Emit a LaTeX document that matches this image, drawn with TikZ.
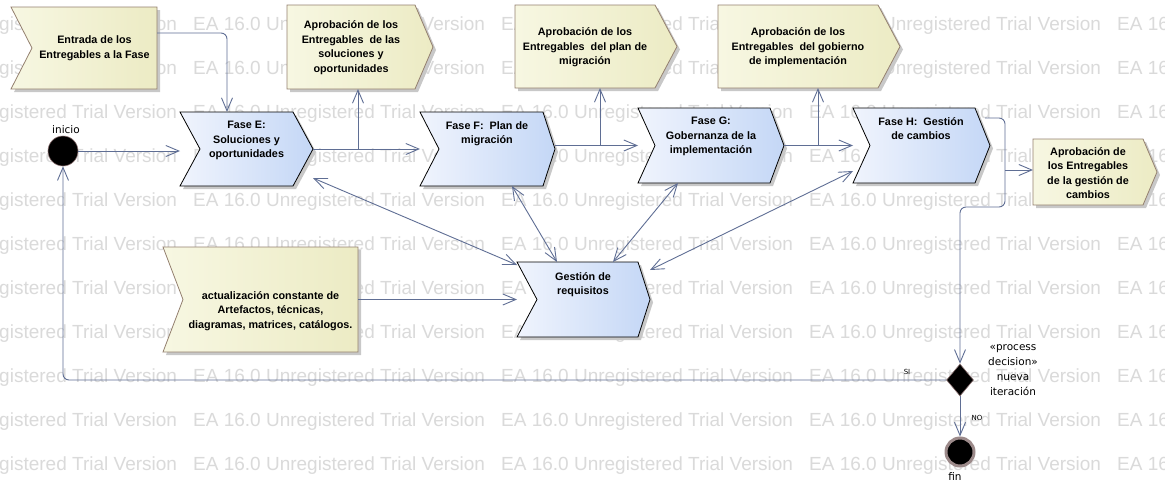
\documentclass[tikz,border=0pt]{standalone}
\usepackage{fontspec}
\setmainfont{Liberation Sans}
\newfontfamily\lblfont{DejaVu Sans}
\usetikzlibrary{arrows.meta,calc,shapes.geometric}

\definecolor{conncol}{HTML}{5F6E94}
\definecolor{bluel}{HTML}{F0F4FD}
\definecolor{bluer}{HTML}{C4D7F6}
\definecolor{yell}{HTML}{F7F7E2}
\definecolor{yelr}{HTML}{ECEBC4}
\definecolor{yelb}{HTML}{94806F}
\definecolor{shadowc}{HTML}{C8C8C8}
\definecolor{wmark}{HTML}{DADADA}
\definecolor{ringc}{HTML}{9C8A8A}
\definecolor{decb}{HTML}{8A7070}

\tikzset{
  blueshape/.style={left color=bluel, right color=bluer, draw=black, line width=0.8pt},
  yelshape/.style={left color=yell, right color=yelr, draw=yelb, line width=0.8pt},
  bbox/.style={draw=none, inner sep=0pt, outer sep=0pt, rectangle},
  boxtext/.style={font=\bfseries\fontsize{10.8}{14.6}\selectfont, align=center, inner sep=0pt, text=black},
  lbl/.style={font=\lblfont\fontsize{10.5}{15}\selectfont, align=center, inner sep=0pt},
  tiny/.style={font=\lblfont\fontsize{7}{8}\selectfont, inner sep=0pt},
  wm/.style={font=\fontsize{19}{20}\selectfont, text=wmark, inner sep=0pt, anchor=west},
  >={Straight Barb[length=13pt,width=11pt]},
  conn/.style={draw=conncol, line width=0.9pt, ->},
  bi/.style={draw=conncol, line width=0.9pt, <->},
}

\newcommand{\eashape}[8]{%
  \pgfmathsetmacro\ymid{(#3+#5)/2}%
  \pgfmathsetmacro\xp{#4-#7}%
  \pgfmathsetmacro\xn{#2+#6}%
  \fill[shadowc,shift={(3,3)}] (#2,#3) -- (\xp,#3) -- (#4,\ymid) -- (\xp,#5) -- (#2,#5) -- (\xn,\ymid) -- cycle;
  \shadedraw[#8] (#2,#3) -- (\xp,#3) -- (#4,\ymid) -- (\xp,#5) -- (#2,#5) -- (\xn,\ymid) -- cycle;
  \node[bbox, minimum width={#4-#2}, minimum height={#5-#3}] (#1) at ({(#2+#4)/2},\ymid) {};
}

\begin{document}
\begin{tikzpicture}[x=1pt,y=-1pt]
\fill[white] (0,0) rectangle (1165,490);
\useasboundingbox (0,0) rectangle (1165,490);

% watermark
\begin{scope}
\clip (0,0) rectangle (1165,490);
\foreach \r in {0,...,10}{
  \foreach \c in {0,...,4}{
    \node[wm] (wm-\r-\c) at ({-115+308*\c},{26+44*\r}) {EA 16.0 Unregistered Trial Version};
  }
}
\end{scope}

% shapes
\eashape{ent}{11}{7}{157}{89}{21}{0}{yelshape}
\eashape{apE}{287}{5}{433}{89}{0}{18}{yelshape}
\eashape{apF}{515}{5}{677}{88}{0}{22}{yelshape}
\eashape{apG}{718}{5}{900}{88}{0}{22}{yelshape}
\eashape{apH}{1033}{139}{1157}{205}{0}{14}{yelshape}
\eashape{act}{163}{247}{358}{352}{20}{0}{yelshape}
\eashape{fE}{180}{112}{313}{186}{20}{20}{blueshape}
\eashape{fF}{420}{112}{555}{186}{19}{12}{blueshape}
\eashape{fG}{638}{108}{784}{183}{17}{14}{blueshape}
\eashape{fH}{853}{108}{990}{183}{17}{15}{blueshape}
\eashape{gr}{517}{262}{650}{337}{20}{12}{blueshape}

% texts
\node[boxtext] (entT) at (94.5,48.5) {Entrada de los\\Entregables a la Fase};
\node[boxtext] (apET) at (351,47.5) {Aprobación de los\\Entregables~ de las\\soluciones y\\oportunidades};
\node[boxtext] (apFT) at (585,47.5) {Aprobación de los\\Entregables~ del plan de\\migración};
\node[boxtext] (apGT) at (798,47.5) {Aprobación de los\\Entregables~ del gobierno\\de implementación};
\node[boxtext] (apHT) at (1088,173) {Aprobación de\\los Entregables\\de la gestión de\\cambios};
\node[boxtext] (actT) at (270.5,311) {actualización constante de\\Artefactos, técnicas,\\diagramas, matrices, catálogos.};
\node[boxtext,anchor=north] (fET) at (246.5,121) {Fase E:\\Soluciones y\\oportunidades};
\node[boxtext,anchor=north] (fFT) at (487,121) {Fase F:~ Plan de\\migración};
\node[boxtext,anchor=north] (fGT) at (711,117) {Fase G:\\Gobernanza de la\\implementación};
\node[boxtext,anchor=north] (fHT) at (921,117) {Fase H:~ Gestión\\de cambios};
\node[boxtext,anchor=north] (grT) at (583,272) {Gestión de\\requisitos};

% initial / decision / final
\node[circle, fill=black, draw=decb, line width=0.6pt, minimum size=30pt, inner sep=0pt] (ini) at (63,151) {};
\node[lbl] (iniL) at (66,130) {inicio};
\node[diamond, fill=black, draw=decb, line width=0.6pt, minimum width=27pt, minimum height=32pt, inner sep=0pt] (dec) at (960,380) {};
\node[lbl] (decL) at (1013,370) {«process\\decision»\\nueva\\iteración};
\node[circle, fill=black, draw=ringc, line width=3pt, minimum size=28pt, inner sep=0pt] (fin) at (960,452) {};
\node[lbl] (finL) at (955,477) {fin};
\node[tiny] (siL) at (907,372) {SI};
\node[tiny] (noL) at (977,418) {NO};

% connectors
\draw[conn, rounded corners=6] ($(ent.north east)+(0,26)$) -| ($(fE.north west)+(47,0)$);
\draw[conn] (ini.east) -- (ini.east -| fE.west);
\draw[conn] (fE.east) -- (fE.east -| fF.west);
\coordinate (bE) at (358,149);
\draw[conn] (bE) -- (bE |- apE.south);
\draw[conn] (fF.east |- fG.west) -- (fG.west);
\coordinate (bF) at (600,145.5);
\draw[conn] (bF) -- (bF |- apF.south);
\draw[conn] (fG.east) -- (fH.west);
\coordinate (bG) at (818,145.5);
\draw[conn] (bG) -- (bG |- apG.south);
\coordinate (hS) at ($(fH.north east)+(-5,10)$);
\coordinate (hC) at (1005,207);
\draw[conn, rounded corners=6] (hS) -| (hC) -| (dec.north);
\coordinate (bH) at (1005,170);
\draw[conn] (bH) -- (bH -| apH.west);
\draw[conn, rounded corners=6] (dec.west) -| (ini.south);
\draw[conn] (dec.south) -- (fin.north);
\draw[conn] (act.east) -- (gr.west);
\draw[bi] ($(fE.south east)+(0,-8)$) -- ($(gr.north west)+(0,3)$);
\draw[bi] ($(fF.south west)+(92,0)$) -- ($(gr.north west)+(40,0)$);
\draw[bi] ($(fG.south west)+(40,0)$) -- ($(gr.north west)+(96,0)$);
\draw[bi] ($(fH.south west)+(0,-12)$) -- ($(gr.north east)+(0,8)$);
\end{tikzpicture}
\end{document}
